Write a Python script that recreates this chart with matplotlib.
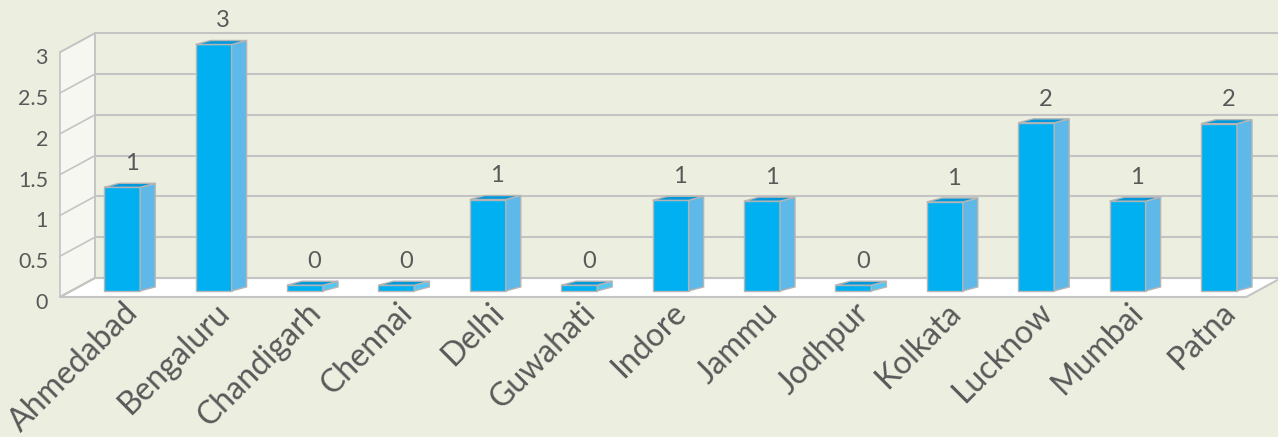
import matplotlib
matplotlib.use("Agg")
import matplotlib.pyplot as plt
from matplotlib.patches import Polygon

cities = ["Ahmedabad", "Bengaluru", "Chandigarh", "Chennai", "Delhi", "Guwahati", "Indore",
          "Jammu", "Jodhpur", "Kolkata", "Lucknow", "Mumbai", "Patna"]
values = [1.27, 3.02, 0.07, 0.07, 1.12, 0.07, 1.11, 1.10, 0.07, 1.09, 2.06, 1.10, 2.05]
yticks = [0, 0.5, 1, 1.5, 2, 2.5, 3]
ytick_labels = ["0", "0.5", "1", "1.5", "2", "2.5", "3"]

plt.rcParams['font.family'] = ['Lato', 'DejaVu Sans']

bg = "#ECEEE0"
grid = "#C4C4C4"
txt = "#595959"
front_c = "#00B0F0"
side_c = "#5EB9E8"
top_c = "#0098DA"

# oblique "3d" depth offsets in data units
DX, DY = 0.383, 0.233
DBAR = 0.32
XL, XR = -0.558, 12.42
W = 0.394
SX, SY = 0.164, 0.049
vmax = yticks[-1]

def proj(x, v, d):
    return (x + d * DX, v + d * DY)

fig = plt.figure(figsize=(12.78, 4.37), dpi=100, facecolor=bg)
ax = fig.add_axes([0, 0, 1, 1])
ax.set_facecolor(bg)
ax.set_xlim(-111 / 91.4, (1278 - 111) / 91.4)
ax.set_ylim(-(437 - 297) / 81.6, 297 / 81.6)
ax.axis("off")

# left wall
wall = Polygon([proj(XL, 0, 0), proj(XL, 0, 1), proj(XL, vmax, 1), proj(XL, vmax, 0)],
               closed=True, facecolor="#F6F7F0", edgecolor=grid, lw=1.2, zorder=1)
ax.add_patch(wall)

# floor
floor = Polygon([proj(XL, 0, 0), proj(XR, 0, 0), proj(XR, 0, 1), proj(XL, 0, 1)],
                closed=True, facecolor="white", edgecolor=grid, lw=1.5, zorder=1)
ax.add_patch(floor)

# gridlines on back wall and left wall
x_end = ax.get_xlim()[1]
for v in yticks:
    bx, by = proj(XL, v, 1)
    ax.plot([bx, x_end], [by, by], color=grid, lw=1.5, zorder=0.5 if v > 0 else 1.5)
    fx, fy = proj(XL, v, 0)
    ax.plot([fx, bx], [fy, by], color=grid, lw=1.2, zorder=1.5)
ax.plot([proj(XL, 0, 1)[0]] * 2, [proj(XL, 0, 1)[1], proj(XL, vmax, 1)[1]], color=grid, lw=1.2, zorder=1.5)

# y tick labels
for v, lab in zip(yticks, ytick_labels):
    ax.annotate(lab, (-0.689, v), xytext=(0, -4.3), textcoords="offset points",
                ha="right", va="center", fontsize=15.5, color=txt)

# bars
xs = [i + DBAR * DX for i in range(len(cities))]
base = DBAR * DY
ax.bar(xs, values, width=W, bottom=base, color=front_c, edgecolor="#B5B5B5", lw=1, zorder=3)
for x, v in zip(xs, values):
    x0, x1 = x - W / 2, x + W / 2
    top = base + v
    sc = side_c if v > 0.5 else "#55C6F2"
    ax.add_patch(Polygon([(x1, base), (x1 + SX, base + SY), (x1 + SX, top + SY), (x1, top)],
                         closed=True, facecolor=sc, edgecolor="#B5B5B5", lw=1, zorder=3))
    ax.add_patch(Polygon([(x0, top), (x1, top), (x1 + SX, top + SY), (x0 + SX, top + SY)],
                         closed=True, facecolor=top_c, edgecolor="#B5B5B5", lw=1, zorder=3))
    ax.annotate(f"{v:.0f}", (x + SX / 2, top + SY), xytext=(1.5, 9.5), textcoords="offset points",
                ha="center", va="baseline", fontsize=17, color=txt, zorder=4)

# category labels
for x, name in zip(xs, cities):
    ax.text(x + SX / 2 + 0.04, -0.135, name, rotation=45, rotation_mode="anchor",
            ha="right", va="center", fontsize=23, color=txt)

fig.savefig("out.png", dpi=100, facecolor=bg)
